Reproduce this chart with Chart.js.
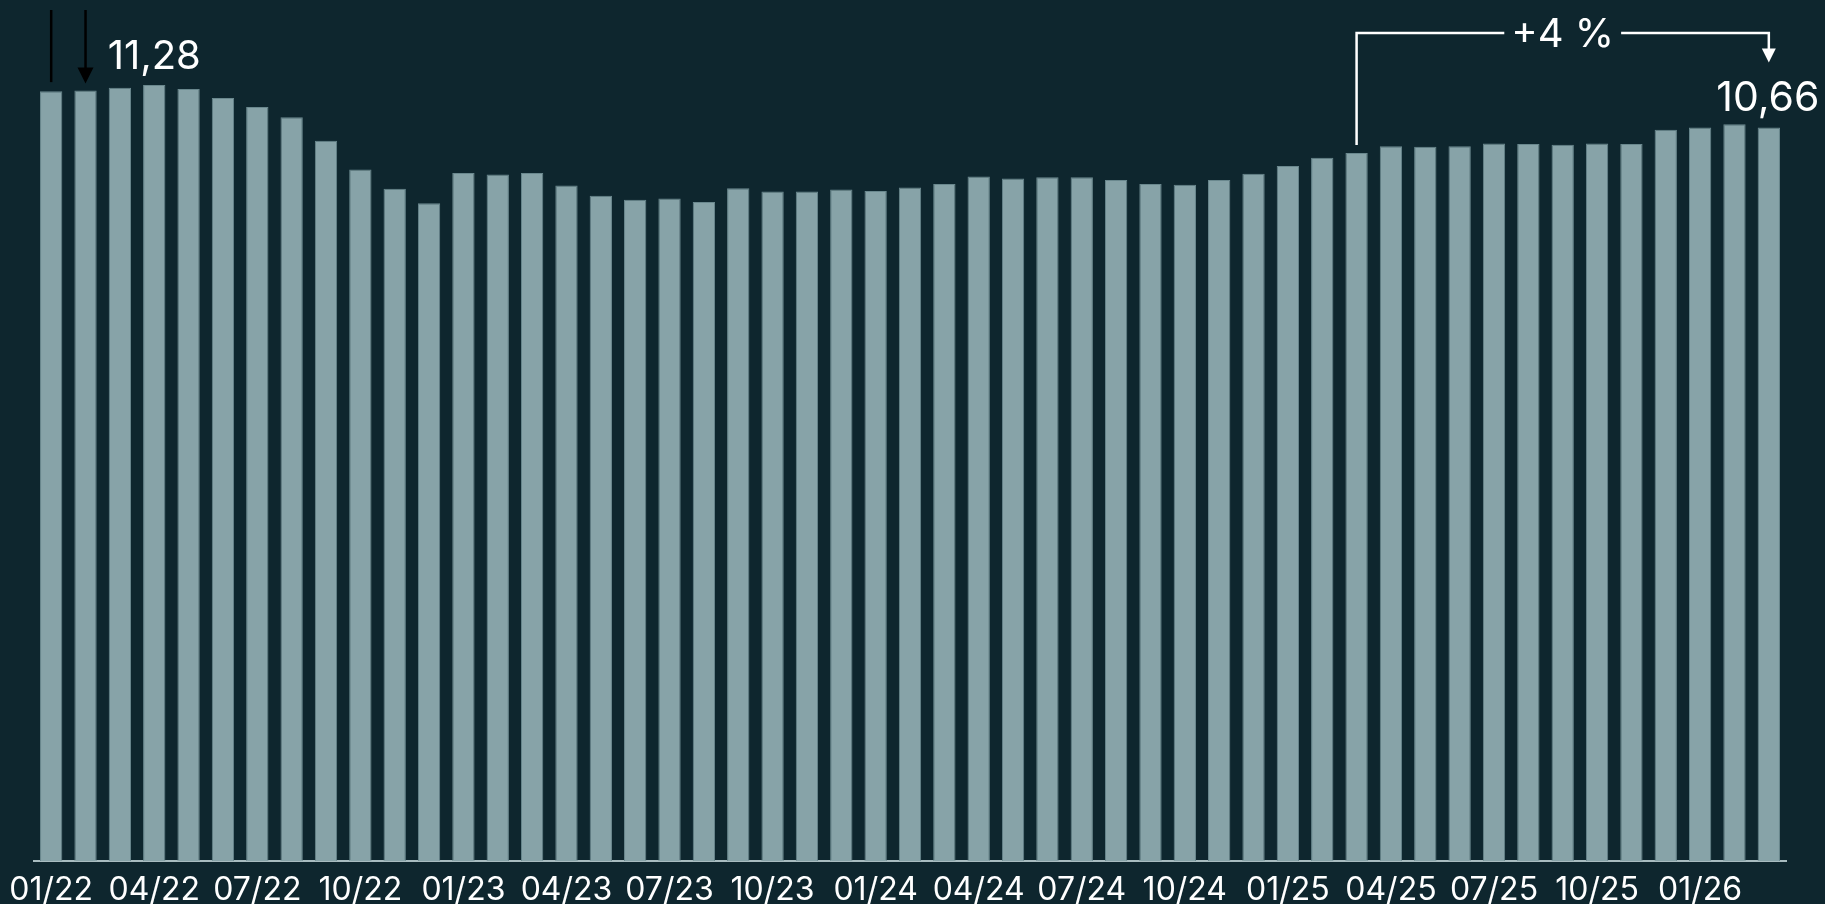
<!DOCTYPE html>
<html>
<head>
<meta charset="utf-8">
<script src="https://cdn.jsdelivr.net/npm/chart.js@4/dist/chart.umd.min.js"></script>
<style>
  html, body { margin: 0; padding: 0; background: #0e262e; }
  #wrap { width: 1825px; height: 904px; position: relative; }
  canvas { display: block; }
</style>
</head>
<body>
<div id="wrap"><canvas id="chart"></canvas></div>
<script>
// Monthly series, 01/22 .. 03/26
const months = [
  '01/22','02/22','03/22','04/22','05/22','06/22','07/22','08/22','09/22','10/22','11/22','12/22',
  '01/23','02/23','03/23','04/23','05/23','06/23','07/23','08/23','09/23','10/23','11/23','12/23',
  '01/24','02/24','03/24','04/24','05/24','06/24','07/24','08/24','09/24','10/24','11/24','12/24',
  '01/25','02/25','03/25','04/25','05/25','06/25','07/25','08/25','09/25','10/25','11/25','12/25',
  '01/26','02/26','03/26'
];
const values = [
  11.19, 11.20, 11.24, 11.28, 11.22, 11.09, 10.96, 10.81, 10.47, 10.05,
  9.77, 9.56, 10.00, 9.98, 10.00, 9.82, 9.67, 9.61, 9.63, 9.58,
  9.78, 9.73, 9.73, 9.76, 9.74, 9.79, 9.84, 9.95, 9.92, 9.94,
  9.94, 9.90, 9.84, 9.83, 9.90, 9.99, 10.10, 10.22, 10.29, 10.39,
  10.38, 10.39, 10.43, 10.42, 10.41, 10.43, 10.42, 10.63, 10.66, 10.71,
  10.66
];
// Months shown on the axis (quarter starts)
const tickMonths = ['01', '04', '07', '10'];

// Callouts
const peakIndex = 3;
const lastIndex = values.length - 1;
const compareIndex = lastIndex - 12;
const pointerIndices = [0, 1];

const FONT = "Inter, 'Noto Sans', 'DejaVu Sans', sans-serif";
const fmt = v => v.toFixed(2).replace('.', ',');

const callouts = {
  id: 'callouts',
  afterDatasetsDraw(chart) {
    const ctx = chart.ctx;
    const bars = chart.getDatasetMeta(0).data;
    ctx.save();

    // thin black pointers at the start of the series
    ctx.strokeStyle = '#000000';
    ctx.fillStyle = '#000000';
    ctx.lineWidth = 2.5;
    const p0 = bars[pointerIndices[0]];
    ctx.beginPath();
    ctx.moveTo(p0.x, 10);
    ctx.lineTo(p0.x, p0.y - 9);
    ctx.stroke();
    const p1 = bars[pointerIndices[1]];
    const tip1 = p1.y - 7;
    ctx.beginPath();
    ctx.moveTo(p1.x, 10);
    ctx.lineTo(p1.x, tip1 - 14);
    ctx.stroke();
    ctx.beginPath();
    ctx.moveTo(p1.x - 8, tip1 - 16);
    ctx.lineTo(p1.x + 8, tip1 - 16);
    ctx.lineTo(p1.x, tip1);
    ctx.closePath();
    ctx.fill();

    // value labels
    ctx.fillStyle = '#ffffff';
    ctx.textAlign = 'center';
    ctx.textBaseline = 'alphabetic';
    const peak = bars[peakIndex];
    ctx.font = '40px ' + FONT;
    ctx.fillText(fmt(values[peakIndex]), peak.x, peak.y - 16);
    const last = bars[lastIndex];
    ctx.font = '41px ' + FONT;
    ctx.fillText(fmt(values[lastIndex]), last.x - 1, last.y - 17);

    // year-over-year bracket
    const from = bars[compareIndex];
    const lineY = 33;
    const tipY = last.y - 65;
    const pct = Math.round((values[lastIndex] / values[compareIndex] - 1) * 100);
    const label = (pct >= 0 ? '+' : '') + pct + ' %';
    ctx.font = '40px ' + FONT;
    const tw = ctx.measureText(label).width;
    const mid = (from.x + last.x) / 2;
    ctx.strokeStyle = '#ffffff';
    ctx.lineWidth = 2.5;
    ctx.beginPath();
    ctx.moveTo(from.x, from.y - 8);
    ctx.lineTo(from.x, lineY);
    ctx.lineTo(mid - tw / 2 - 7, lineY);
    ctx.moveTo(mid + tw / 2 + 7, lineY);
    ctx.lineTo(last.x, lineY);
    ctx.lineTo(last.x, tipY - 13);
    ctx.stroke();
    ctx.beginPath();
    ctx.moveTo(last.x - 7, tipY - 14);
    ctx.lineTo(last.x + 7, tipY - 14);
    ctx.lineTo(last.x, tipY);
    ctx.closePath();
    ctx.fill();
    ctx.textBaseline = 'middle';
    ctx.fillText(label, mid, lineY + 2);

    ctx.restore();
  }
};

new Chart(document.getElementById('chart'), {
  type: 'bar',
  data: {
    labels: months,
    datasets: [{
      data: values,
      backgroundColor: '#87a3a8',
      borderColor: '#6a888e',
      borderWidth: 1,
      barPercentage: 0.65,
      categoryPercentage: 1.0
    }]
  },
  options: {
    responsive: true,
    maintainAspectRatio: false,
    devicePixelRatio: 1,
    animation: false,
    layout: { padding: { left: 34, right: 39, top: 1, bottom: -15 } },
    plugins: { legend: { display: false }, tooltip: { enabled: false } },
    scales: {
      x: {
        grid: { display: false, drawTicks: false },
        border: { display: true, color: '#a8bcc0', width: 2 },
        ticks: {
          autoSkip: false,
          maxRotation: 0,
          padding: 7,
          color: '#ffffff',
          font: { family: FONT, size: 32, lineHeight: 1.375 },
          callback(value) {
            const lab = this.getLabelForValue(value);
            return tickMonths.includes(lab.slice(0, 2)) ? lab : '';
          }
        }
      },
      y: { display: false, min: 0, max: 12.5 }
    }
  },
  plugins: [callouts]
});
</script>
</body>
</html>
